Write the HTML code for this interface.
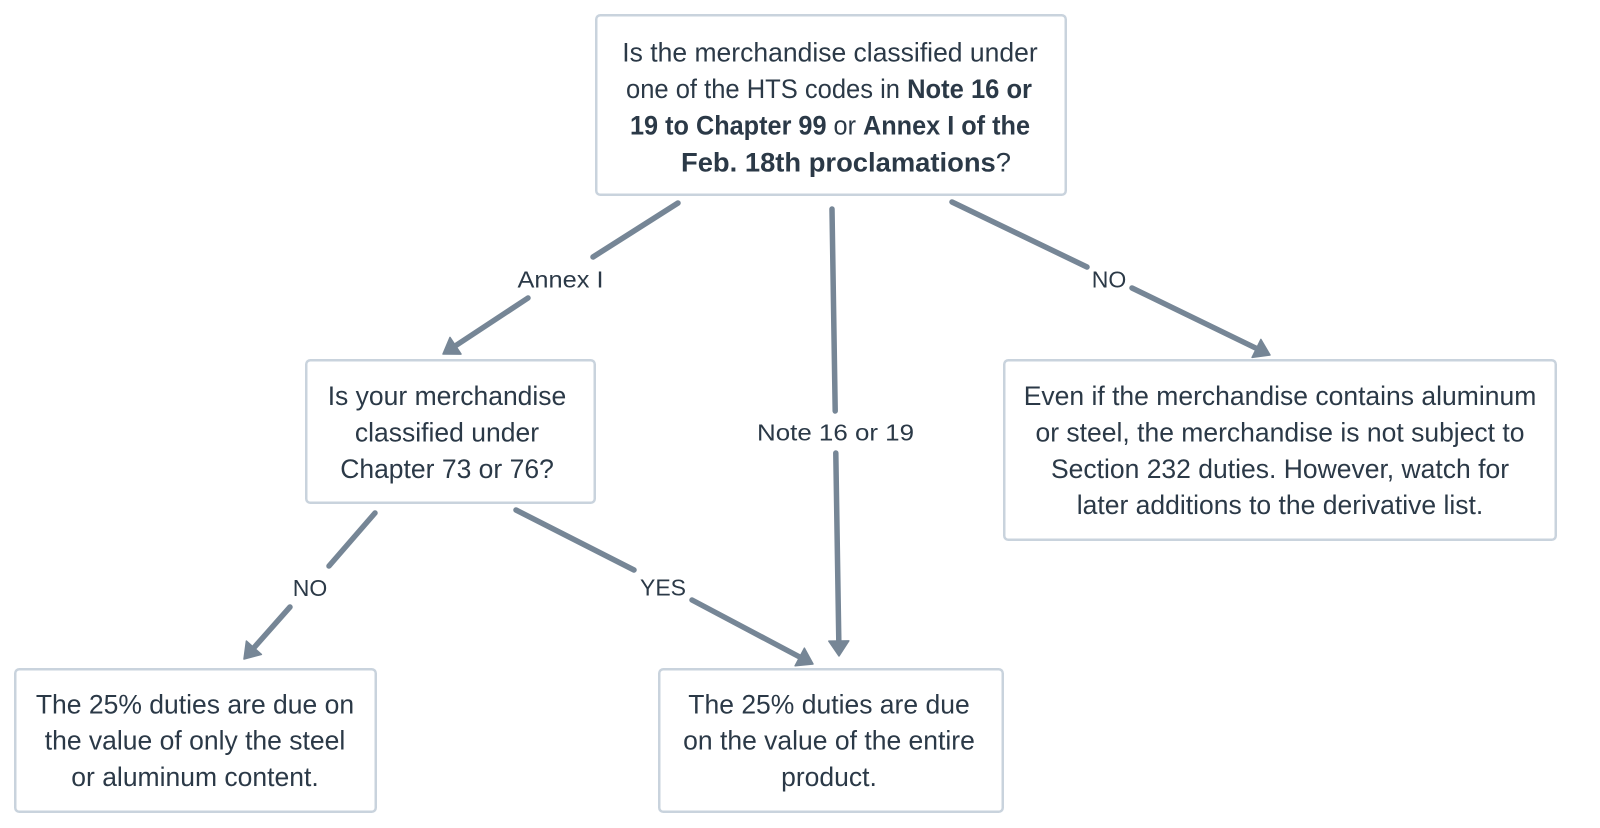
<!DOCTYPE html>
<html>
<head>
<meta charset="utf-8">
<style>
  html, body { margin: 0; padding: 0; background: #ffffff; }
  body { width: 1600px; height: 828px; overflow: hidden; }
  svg { display: block; }
  .t { font-family: "Liberation Sans", Arial, sans-serif; font-size: 26.5px; fill: #2b3947; }
  .lb { font-family: "Liberation Sans", Arial, sans-serif; font-size: 23px; fill: #2b3947; }
  .b { font-weight: bold; }
  .box { fill: #ffffff; stroke: #c9d3dd; stroke-width: 2.5; }
  .ln { stroke: #768696; stroke-width: 5.5; stroke-linecap: round; fill: none; }
  .ah { fill: #768696; stroke: #768696; stroke-width: 1.5; stroke-linejoin: round; }
</style>
</head>
<body>
<svg width="1600" height="828" viewBox="0 0 1600 828" xmlns="http://www.w3.org/2000/svg">
  <rect x="0" y="0" width="1600" height="828" fill="#ffffff"/>

  <!-- Boxes -->
  <rect class="box" x="596.25" y="15.25" width="469.5" height="179.5" rx="4"/>
  <rect class="box" x="306.25" y="360.25" width="288.5" height="142.5" rx="4"/>
  <rect class="box" x="1004.25" y="360.25" width="551.5" height="179.5" rx="4"/>
  <rect class="box" x="15.25" y="669.25" width="360.5" height="142.5" rx="4"/>
  <rect class="box" x="659.25" y="669.25" width="343.5" height="142.5" rx="4"/>

  <!-- Top box text -->
  <text class="t" x="830" y="61.3" text-anchor="middle">Is the merchandise classified under</text>
  <text class="t" x="829" y="98" text-anchor="middle" textLength="406" lengthAdjust="spacingAndGlyphs">one of the HTS codes in <tspan class="b">Note 16 or</tspan></text>
  <text class="t" x="830" y="134.7" text-anchor="middle" textLength="400" lengthAdjust="spacingAndGlyphs"><tspan class="b">19 to Chapter 99</tspan> or <tspan class="b">Annex I of the</tspan></text>
  <text class="t" x="681" y="171.3" text-anchor="start" textLength="330" lengthAdjust="spacingAndGlyphs"><tspan class="b">Feb. 18th proclamations</tspan>?</text>

  <!-- Mid-left box text -->
  <text class="t" x="447" y="405" text-anchor="middle">Is your merchandise</text>
  <text class="t" x="447" y="441.5" text-anchor="middle">classified under</text>
  <text class="t" x="447" y="478" text-anchor="middle">Chapter 73 or 76?</text>

  <!-- Right box text -->
  <text class="t" x="1280" y="405" text-anchor="middle">Even if the merchandise contains aluminum</text>
  <text class="t" x="1280" y="441.4" text-anchor="middle">or steel, the merchandise is not subject to</text>
  <text class="t" x="1280" y="477.8" text-anchor="middle">Section 232 duties. However, watch for</text>
  <text class="t" x="1280" y="514.2" text-anchor="middle">later additions to the derivative list.</text>

  <!-- Bottom-left box text -->
  <text class="t" x="195" y="713.3" text-anchor="middle">The 25% duties are due on</text>
  <text class="t" x="195" y="749.7" text-anchor="middle">the value of only the steel</text>
  <text class="t" x="195" y="786" text-anchor="middle">or aluminum content.</text>

  <!-- Bottom-right box text -->
  <text class="t" x="829" y="713.3" text-anchor="middle">The 25% duties are due</text>
  <text class="t" x="829" y="749.7" text-anchor="middle">on the value of the entire</text>
  <text class="t" x="829" y="786" text-anchor="middle">product.</text>

  <!-- Connector: Annex I -->
  <line class="ln" x1="678" y1="203" x2="593" y2="257"/>
  <line class="ln" x1="528" y1="298" x2="455.5" y2="345.75"/>
  <polygon class="ah" points="443,354 461,354.1 450,337.4"/>
  <text class="lb" x="560.5" y="287.7" text-anchor="middle" textLength="86" lengthAdjust="spacingAndGlyphs">Annex I</text>

  <!-- Connector: Note 16 or 19 -->
  <line class="ln" x1="832" y1="209" x2="835.2" y2="411"/>
  <line class="ln" x1="835.8" y1="453" x2="838.8" y2="641"/>
  <polygon class="ah" points="839,656 828.8,641.1 848.8,640.9"/>
  <text class="lb" x="835.5" y="440.7" text-anchor="middle" textLength="157" lengthAdjust="spacingAndGlyphs">Note 16 or 19</text>

  <!-- Connector: NO (right) -->
  <line class="ln" x1="952" y1="202" x2="1087" y2="267"/>
  <line class="ln" x1="1132" y1="288" x2="1256.5" y2="348.45"/>
  <polygon class="ah" points="1270,355 1252.1,357.4 1260.9,339.45"/>
  <text class="lb" x="1109" y="287.3" text-anchor="middle">NO</text>

  <!-- Connector: NO (left) -->
  <line class="ln" x1="375" y1="513" x2="329" y2="566"/>
  <line class="ln" x1="290" y1="607" x2="253.9" y2="647.8"/>
  <polygon class="ah" points="244,659 261.4,654.4 246.4,641.1"/>
  <text class="lb" x="310" y="596" text-anchor="middle">NO</text>

  <!-- Connector: YES -->
  <line class="ln" x1="516" y1="510" x2="634" y2="570"/>
  <line class="ln" x1="692" y1="600" x2="799.7" y2="657"/>
  <polygon class="ah" points="813,664 795.1,665.8 804.4,648.2"/>
  <text class="lb" x="663" y="595.7" text-anchor="middle">YES</text>
</svg>
</body>
</html>
